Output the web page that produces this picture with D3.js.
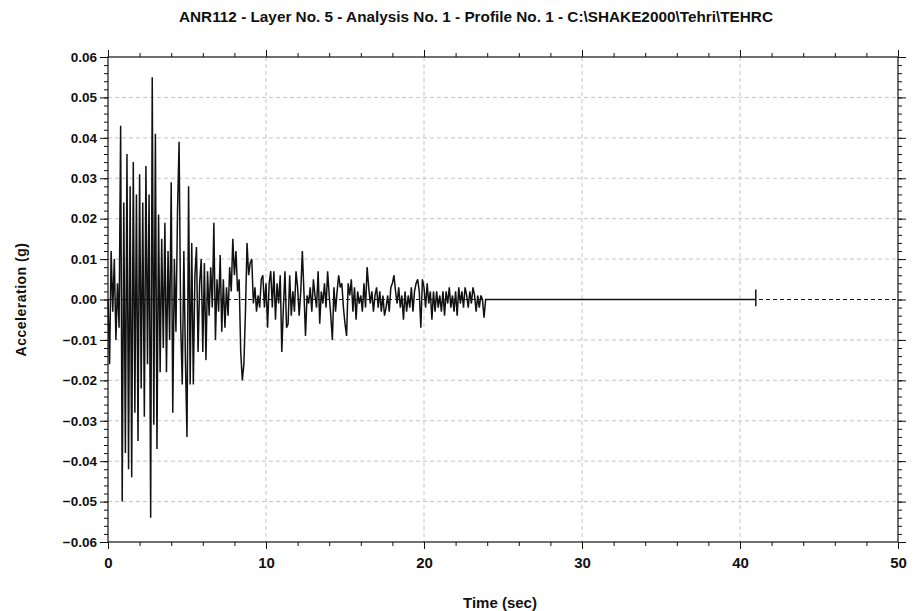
<!DOCTYPE html>
<html>
<head>
<meta charset="utf-8">
<script src="https://cdn.jsdelivr.net/npm/d3@7"></script>
<style>
  body { margin: 0; background: #fff; }
  text { font-family: "Liberation Sans", Arial, sans-serif; font-weight: bold; fill: #111; }
  .narrow { font-family: "Liberation Sans Narrow", "Arial Narrow", "Liberation Sans", sans-serif; }
</style>
</head>
<body>
<div id="chart"></div>
<script>
// Acceleration record, one value every 0.1 s from 0 to 24 s
const timeStep = 0.1;
const accel = [
  0.000, -0.016, 0.012, -0.003, 0.010, -0.010, 0.004, -0.007, 0.043, -0.050,
  0.024, -0.038, 0.036, -0.042, 0.028, -0.044, 0.034, -0.028, 0.026, -0.035,
  0.031, -0.022, 0.024, -0.029, 0.033, -0.016, 0.026, -0.054, 0.055, -0.031,
  0.041, -0.037, 0.021, -0.018, 0.015, -0.012, 0.019, -0.018, 0.012, -0.010,
  0.029, -0.028, 0.010, -0.008, 0.022, 0.039, -0.006, -0.021, 0.012, -0.015,
  -0.034, 0.028, -0.021, 0.014, -0.021, 0.006, 0.013, -0.013, 0.004, 0.010,
  -0.013, 0.009, -0.015, 0.007, -0.004, 0.008, -0.002, 0.019, -0.010, 0.005,
  -0.003, 0.011, -0.008, 0.005, -0.007, 0.003, -0.004, 0.008, 0.002, 0.015,
  0.006, 0.012, 0.002, 0.005, -0.013, -0.020, -0.016, -0.003, 0.014, 0.006,
  0.009, 0.010, -0.001, 0.003, -0.003, 0.001, -0.002, 0.005, 0.006, -0.002,
  0.004, -0.007, 0.004, 0.007, -0.002, 0.007, -0.005, 0.004, -0.001, 0.006,
  -0.013, -0.002, 0.007, -0.007, -0.006, 0.006, -0.004, 0.002, -0.003, 0.007,
  0.003, -0.004, 0.002, 0.012, 0.002, -0.009, 0.001, -0.001, 0.003, -0.003,
  0.005, 0.001, -0.002, 0.007, -0.006, 0.002, -0.001, 0.004, -0.002, 0.007,
  0.001, -0.004, -0.010, 0.003, -0.003, 0.002, 0.006, 0.003, 0.004, -0.002,
  -0.006, -0.009, 0.004, 0.001, 0.005, -0.003, 0.003, -0.005, 0.002, -0.001,
  0.001, -0.003, 0.004, -0.002, 0.008, 0.003, -0.001, 0.002, -0.003, 0.001,
  0.003, -0.002, 0.002, -0.003, 0.001, -0.004, -0.002, 0.001, -0.003, 0.003,
  0.004, 0.006, 0.002, -0.001, 0.003, -0.002, 0.001, -0.005, 0.002, -0.003,
  0.001, -0.002, 0.003, -0.003, 0.002, 0.004, 0.005, 0.002, -0.007, 0.005,
  0.003, -0.002, 0.004, -0.001, 0.002, -0.005, 0.002, -0.003, 0.002, -0.002,
  0.001, -0.003, 0.002, -0.004, 0.002, -0.001, 0.003, -0.002, 0.001, -0.003,
  0.002, -0.004, 0.003, -0.001, 0.002, -0.002, 0.003, 0.001, -0.002, 0.002,
  -0.001, 0.003, 0.001, -0.003, 0.001, -0.002, 0.001, 0.000, -0.0045, 0.000,
  0.000
];

// Quiet part after the record, with the small blip at the end
const tailTime = [24.1, 41.0, 41.0, 41.0, 41.0];
const tailAccel = [0, 0, 0.0025, -0.0017, 0];

const xTicks = [0, 10, 20, 30, 40, 50];
const yTicks = [-0.06, -0.05, -0.04, -0.03, -0.02, -0.01, 0, 0.01, 0.02, 0.03, 0.04, 0.05, 0.06];

const titleText = "ANR112 - Layer No. 5 - Analysis No. 1 - Profile No. 1 - C:\\SHAKE2000\\Tehri\\TEHRC";

// Build the points
let series = accel.map((v, i) => ({ t: +(i * timeStep).toFixed(2), a: v }));
tailTime.forEach((t, i) => series.push({ t: t, a: tailAccel[i] }));

const W = 913, H = 611;
const margin = { top: 57, right: 15, bottom: 69, left: 108 };
const width = W - margin.left - margin.right,
    height = H - margin.top - margin.bottom;

const root = d3.select("#chart").append("svg")
    .attr("width", W)
    .attr("height", H)
    .style("background", "#fff");

const svg = root.append("g")
    .attr("transform", `translate(${margin.left},${margin.top})`);

const x = d3.scaleLinear().domain([0, 50]).range([0, width]);
const y = d3.scaleLinear().domain([-0.06, 0.06]).range([height, 0]);

const minorX = d3.range(0, 50.001, 2);
const minorY = d3.range(-60, 61, 2).map(d => d / 1000);

// Grid
svg.append("g")
    .selectAll("line")
    .data(xTicks.slice(1, -1))
    .join("line")
    .attr("x1", d => x(d)).attr("x2", d => x(d))
    .attr("y1", 0).attr("y2", height)
    .attr("stroke", "#c4c4c4")
    .attr("stroke-dasharray", "4,3");

svg.append("g")
    .selectAll("line")
    .data(yTicks.filter(d => d !== 0 && Math.abs(d) < 0.06))
    .join("line")
    .attr("x1", 0).attr("x2", width)
    .attr("y1", d => y(d)).attr("y2", d => y(d))
    .attr("stroke", "#c4c4c4")
    .attr("stroke-dasharray", "4,3");

// Zero line
svg.append("line")
    .attr("x1", 0).attr("x2", width)
    .attr("y1", y(0)).attr("y2", y(0))
    .attr("stroke", "#111")
    .attr("stroke-dasharray", "4,3");

// Signal
svg.append("path")
    .datum(series)
    .attr("fill", "none")
    .attr("stroke", "#111")
    .attr("stroke-width", 1.5)
    .attr("stroke-linejoin", "miter")
    .attr("d", d3.line().x(d => x(d.t)).y(d => y(d.a)));

// Axes
function styleAxis(g) {
    g.select(".domain").remove();
    g.selectAll("line").attr("stroke", "#111");
    g.selectAll("text").style("font-size", "13.5px");
}

svg.append("g")
    .call(d3.axisLeft(y).tickValues(minorY).tickSize(4).tickFormat(""))
    .call(styleAxis);
svg.append("g")
    .call(d3.axisLeft(y).tickValues(yTicks).tickSize(8).tickPadding(3).tickFormat(d3.format(".2f")))
    .call(styleAxis);

svg.append("g")
    .attr("transform", `translate(${width},0)`)
    .call(d3.axisRight(y).tickValues(minorY).tickSize(4).tickFormat(""))
    .call(styleAxis);
svg.append("g")
    .attr("transform", `translate(${width},0)`)
    .call(d3.axisRight(y).tickValues(yTicks).tickSize(8).tickFormat(""))
    .call(styleAxis);

svg.append("g")
    .attr("transform", `translate(0,${height})`)
    .call(d3.axisBottom(x).tickValues(minorX).tickSize(4).tickFormat(""))
    .call(styleAxis);
svg.append("g")
    .attr("transform", `translate(0,${height})`)
    .call(d3.axisBottom(x).tickValues(xTicks).tickSize(7).tickPadding(8).tickFormat(d3.format("d")))
    .call(styleAxis)
    .call(g => g.selectAll("text").attr("class", "narrow").style("font-size", "15px"));

svg.append("g")
    .call(d3.axisTop(x).tickValues(minorX).tickSize(4).tickFormat(""))
    .call(styleAxis);
svg.append("g")
    .call(d3.axisTop(x).tickValues(xTicks).tickSize(7).tickFormat(""))
    .call(styleAxis);

// Frame
svg.append("rect")
    .attr("width", width).attr("height", height)
    .attr("fill", "none")
    .attr("stroke", "#111")
    .attr("stroke-width", 1.2);

// Titles
root.append("text")
    .attr("class", "narrow")
    .attr("x", 476).attr("y", 22)
    .attr("text-anchor", "middle")
    .attr("textLength", 594)
    .attr("lengthAdjust", "spacingAndGlyphs")
    .style("font-size", "15px")
    .text(titleText);

root.append("text")
    .attr("transform", `translate(26,${margin.top + y(0)}) rotate(-90)`)
    .attr("text-anchor", "middle")
    .style("font-size", "14px")
    .style("letter-spacing", "0.5px")
    .text("Acceleration (g)");

root.append("text")
    .attr("class", "narrow")
    .attr("x", 500).attr("y", 608)
    .attr("text-anchor", "middle")
    .style("font-size", "15px")
    .text("Time (sec)");
</script>
</body>
</html>
